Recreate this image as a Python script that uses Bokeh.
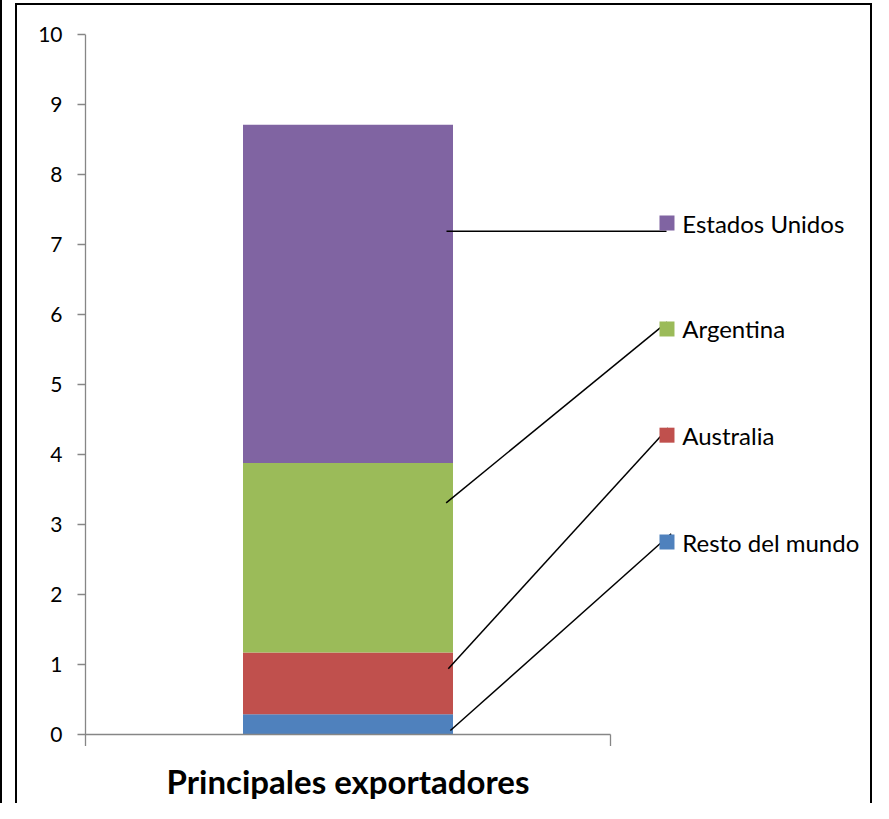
from bokeh.plotting import figure
from bokeh.models import ColumnDataSource, Range1d, LinearAxis, FixedTicker
from bokeh.core.properties import value
from bokeh.embed import file_html
from bokeh.resources import INLINE

# ---- data ----
category = ["Principales exportadores"]
series = ["Resto del mundo", "Australia", "Argentina", "Estados Unidos"]
values = [0.29, 0.88, 2.71, 4.83]
colors = ["#4F81BD", "#C0504D", "#9BBB59", "#8064A2"]
y_ticks = [0, 1, 2, 3, 4, 5, 6, 7, 8, 9, 10]

# label layout (positions of the data-label boxes and leader-line anchors)
label_y = [2.75, 4.276, 5.793, 7.307]
anchor_x = [0.695, 0.691, 0.687, 0.6876]
anchor_y = [0.057, 0.94, 3.31, 7.19]
end_x = [1.1156, 1.11, 1.108, 1.1067]
end_y = [2.867, 4.38, 5.89, 7.19]

FONT = "Lato"
AXIS_GREY = "#868686"
PX = 525.0  # pixels per category width

bg = ("linear-gradient(#000,#000) 0px 0px/2px 100% no-repeat, "
      "linear-gradient(#000,#000) 15px 3px/2px 100% no-repeat, "
      "linear-gradient(#000,#000) 15px 3px/857px 2px no-repeat, "
      "linear-gradient(#000,#000) 870px 3px/2px 100% no-repeat, #fff")

p = figure(
    output_backend="svg", toolbar_location=None,
    frame_width=794, frame_height=769,
    x_range=Range1d(-6 / PX, 788 / PX), y_range=Range1d(10 - 769 / 70, 10),
    x_axis_type=None, y_axis_type=None,
    min_border_left=79, min_border_right=0, min_border_top=34, min_border_bottom=0,
    styles={"background": bg},
)
p.outline_line_color = None
p.grid.visible = False
p.background_fill_color = None
p.border_fill_color = None

yax = LinearAxis(ticker=FixedTicker(ticks=y_ticks))
yax.axis_line_color = None
yax.major_tick_line_color = AXIS_GREY
yax.major_tick_line_width = 1.3
yax.major_tick_out = 2
yax.major_tick_in = 6
yax.minor_tick_line_color = None
yax.major_label_text_font = FONT
yax.major_label_text_font_size = "21px"
yax.major_label_text_color = "black"
yax.major_label_standoff = 15
p.add_layout(yax, "left")

# stacked bar
data = {"x": [0.5]}
for s, v in zip(series, values):
    data[s] = [v]
src = ColumnDataSource(data)
p.vbar_stack(series, x="x", width=0.4, color=colors, line_color=None, source=src)

# axis lines: y axis line (extends to category boundary tick), x axis, right boundary tick
p.segment(x0=[0], y0=[-0.164], x1=[0], y1=[10], line_color=AXIS_GREY, line_width=1.3)
p.segment(x0=[0], y0=[0], x1=[1.0], y1=[0], line_color=AXIS_GREY, line_width=1.3)
p.segment(x0=[1.0], y0=[0], x1=[1.0], y1=[-0.164], line_color=AXIS_GREY, line_width=1.3)

# leader lines
p.segment(x0=anchor_x, y0=anchor_y, x1=end_x, y1=end_y, line_color="black", line_width=1.5)

# label markers and texts
p.scatter(x=[1.1076] * 4, y=label_y, marker="square", size=15, color=colors, line_color=None)
p.text(x=[1.1366] * 4, y=label_y, text=series, text_font=value(FONT), text_font_size="24px",
       text_baseline="middle", text_align="left", text_color="black")

# category label
p.text(x=[0.5], y=[-0.665], text=category, text_font=value(FONT), text_font_size="33px",
       text_font_style="bold", text_align="center", text_baseline="middle",
       text_color="black")

open("out.html", "w").write(file_html(p, INLINE))
